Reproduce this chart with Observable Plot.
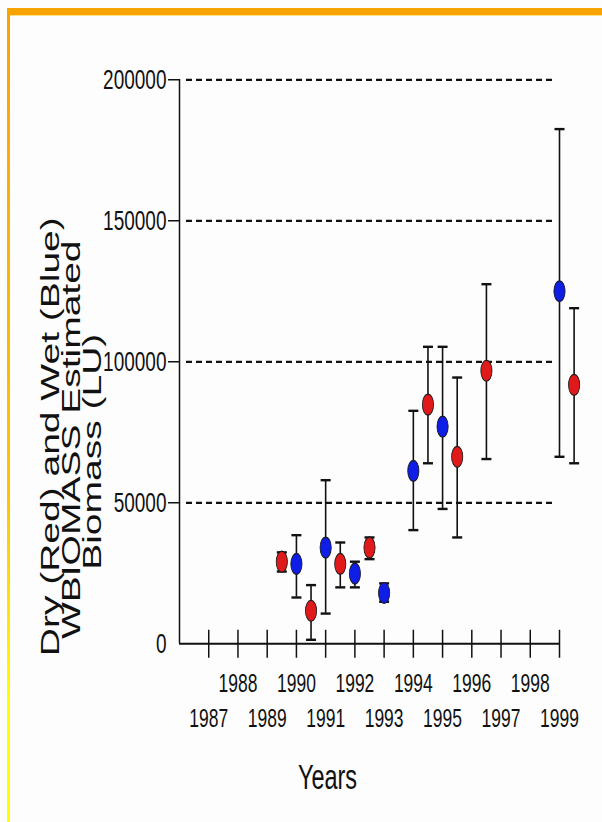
<!DOCTYPE html>
<html><head><meta charset="utf-8">
<script src="https://cdn.jsdelivr.net/npm/d3@7"></script>
<script src="https://cdn.jsdelivr.net/npm/@observablehq/plot@0.6"></script>
<style>
html,body{margin:0;padding:0;background:#fdfdfd;}
#page{position:relative;width:602px;height:822px;overflow:hidden;background:#fdfdfd;}
#topbar{position:absolute;left:7px;top:8px;width:595px;height:7px;background:#f8a400;border-bottom:1px solid #ffe08a;}
#leftbar{position:absolute;left:7px;top:8px;width:3px;height:814px;background:linear-gradient(to bottom,#f8a400 0%,#ffc400 60%,#ffff00 85%,#ffff00 100%);}
#chart{position:absolute;left:0;top:0;}
</style></head><body>
<div id="page"><div id="topbar"></div><div id="leftbar"></div><div id="chart"></div></div>
<script>
// ---- data ----
const wetYears  = [1990, 1991, 1992, 1993, 1994, 1995, 1999];
const wetValues = [28300, 34100, 24900, 18000, 61300, 77000, 125000];
const wetLow    = [16400, 10700, 20000, 14900, 40300, 47800, 66300];
const wetHigh   = [38500, 58000, 29100, 21400, 82600, 105300, 182500];

const dryYears  = [1989.5, 1990.5, 1991.5, 1992.5, 1994.5, 1995.5, 1996.5, 1999.5];
const dryValues = [29100, 11700, 28300, 34100, 84800, 66300, 96800, 91800];
const dryLow    = [25600, 1400, 20000, 30000, 64000, 37700, 65500, 64000];
const dryHigh   = [32400, 20800, 35900, 37700, 105300, 94400, 127500, 119000];

const xDomain = [1986, 1999];
const yDomain = [0, 200000];
const allYears  = [1987, 1988, 1989, 1990, 1991, 1992, 1993, 1994, 1995, 1996, 1997, 1998, 1999];
const evenYears = [1988, 1990, 1992, 1994, 1996, 1998];
const oddYears  = [1987, 1989, 1991, 1993, 1995, 1997, 1999];
const yTicks    = [50000, 100000, 150000, 200000];
const yZeroTick = [0];
const gridValues = [50000, 100000, 150000, 200000];
const yLabelLines = ["Dry (Red) and Wet (Blue)", "WBIOMASS Estimated", "Biomass (LU)"];
const xLabel = "Years";
const dryColor = "#e01a1a";
const wetColor = "#0f1ee6";

// ---- layout ----
const S = 1.5;              // the original picture is stretched vertically
const W = 602, H = 822, h = H / S;
const wet = wetYears.map((x, i) => ({x, v: wetValues[i], lo: wetLow[i], hi: wetHigh[i]}));
const dry = dryYears.map((x, i) => ({x, v: dryValues[i], lo: dryLow[i], hi: dryHigh[i]}));

const ellipse = (rx, ry) => ({draw(ctx) {
  const k = 0.5523;
  ctx.moveTo(0, -ry);
  ctx.bezierCurveTo(k * rx, -ry, rx, -k * ry, rx, 0);
  ctx.bezierCurveTo(rx, k * ry, k * rx, ry, 0, ry);
  ctx.bezierCurveTo(-k * rx, ry, -rx, k * ry, -rx, 0);
  ctx.bezierCurveTo(-rx, -k * ry, -k * rx, -ry, 0, -ry);
  ctx.closePath();
}});
const hLine = (a, b) => ({draw(ctx) { ctx.moveTo(a, 0); ctx.lineTo(b, 0); }});
const vLine = (a, b) => ({draw(ctx) { ctx.moveTo(0, a); ctx.lineTo(0, b); }});

const font = '"Liberation Sans", Arial, sans-serif';
const ink = "#111";

function series(data, color) {
  return [
    Plot.ruleX(data, {x: "x", y1: "lo", y2: "hi", stroke: ink, strokeWidth: 1.6}),
    Plot.dot(data, {x: "x", y: "hi", symbol: hLine(-5, 5), fill: "none", stroke: ink, strokeWidth: 1.6}),
    Plot.dot(data, {x: "x", y: "lo", symbol: hLine(-5, 5), fill: "none", stroke: ink, strokeWidth: 1.6}),
    Plot.dot(data, {x: "x", y: "v", symbol: ellipse(5.6, 10.5 / S), fill: color, stroke: "#1a1a1a", strokeWidth: 0.8})
  ];
}

const chart = Plot.plot({
  width: W, height: h,
  marginLeft: 179, marginRight: 43, marginTop: 79 / S, marginBottom: h - 643 / S,
  x: {domain: xDomain, axis: null},
  y: {domain: yDomain, axis: null},
  style: {fontFamily: font, background: "transparent", overflow: "visible", color: ink},
  marks: [
    Plot.ruleY(gridValues, {stroke: ink, strokeWidth: 1.5, strokeDasharray: "6,4", insetLeft: 7, insetRight: 4}),
    Plot.ruleX([xDomain[0]], {stroke: ink, strokeWidth: 1.5}),
    Plot.ruleY([yDomain[0]], {stroke: ink, strokeWidth: 1.3}),
    Plot.dot(allYears, {x: d => d, frameAnchor: "bottom", symbol: vLine(-14 / S, 14 / S), fill: "none", stroke: ink, strokeWidth: 1.5}),
    Plot.axisY(yTicks, {tickSize: 11, tickPadding: 2, fontSize: 19, tickFormat: d => String(d), label: null}),
    Plot.axisY(yZeroTick, {tickSize: 0, tickPadding: 13, fontSize: 19, tickFormat: d => String(d), label: null}),
    Plot.axisX(evenYears, {tickSize: 0, tickPadding: 20, fontSize: 17.5, tickFormat: d => String(d), label: null}),
    Plot.axisX(oddYears, {tickSize: 0, tickPadding: 43, fontSize: 17.5, tickFormat: d => String(d), label: null}),
    ...series(dry, dryColor),
    ...series(wet, wetColor),
    Plot.text([yLabelLines[0]], {frameAnchor: "left", textAnchor: "middle", lineAnchor: "middle", rotate: -90, dx: 50 - 179, dy: 50, fontSize: 26, fill: ink}),
    Plot.text([yLabelLines[1]], {frameAnchor: "left", textAnchor: "middle", lineAnchor: "middle", rotate: -90, dx: 71 - 179, dy: 52, fontSize: 26, fill: ink}),
    Plot.text([yLabelLines[2]], {frameAnchor: "left", textAnchor: "middle", lineAnchor: "middle", rotate: -90, dx: 92 - 179, dy: 60, fontSize: 26, fill: ink}),
    Plot.text([xLabel], {frameAnchor: "bottom", textAnchor: "middle", lineAnchor: "middle", dx: -42, dy: 89, fontSize: 23.5, fill: ink})
  ]
});
chart.setAttribute("preserveAspectRatio", "none");
chart.style.width = W + "px";
chart.style.height = H + "px";
chart.style.maxWidth = "none";
document.getElementById("chart").append(chart);
</script></body></html>
